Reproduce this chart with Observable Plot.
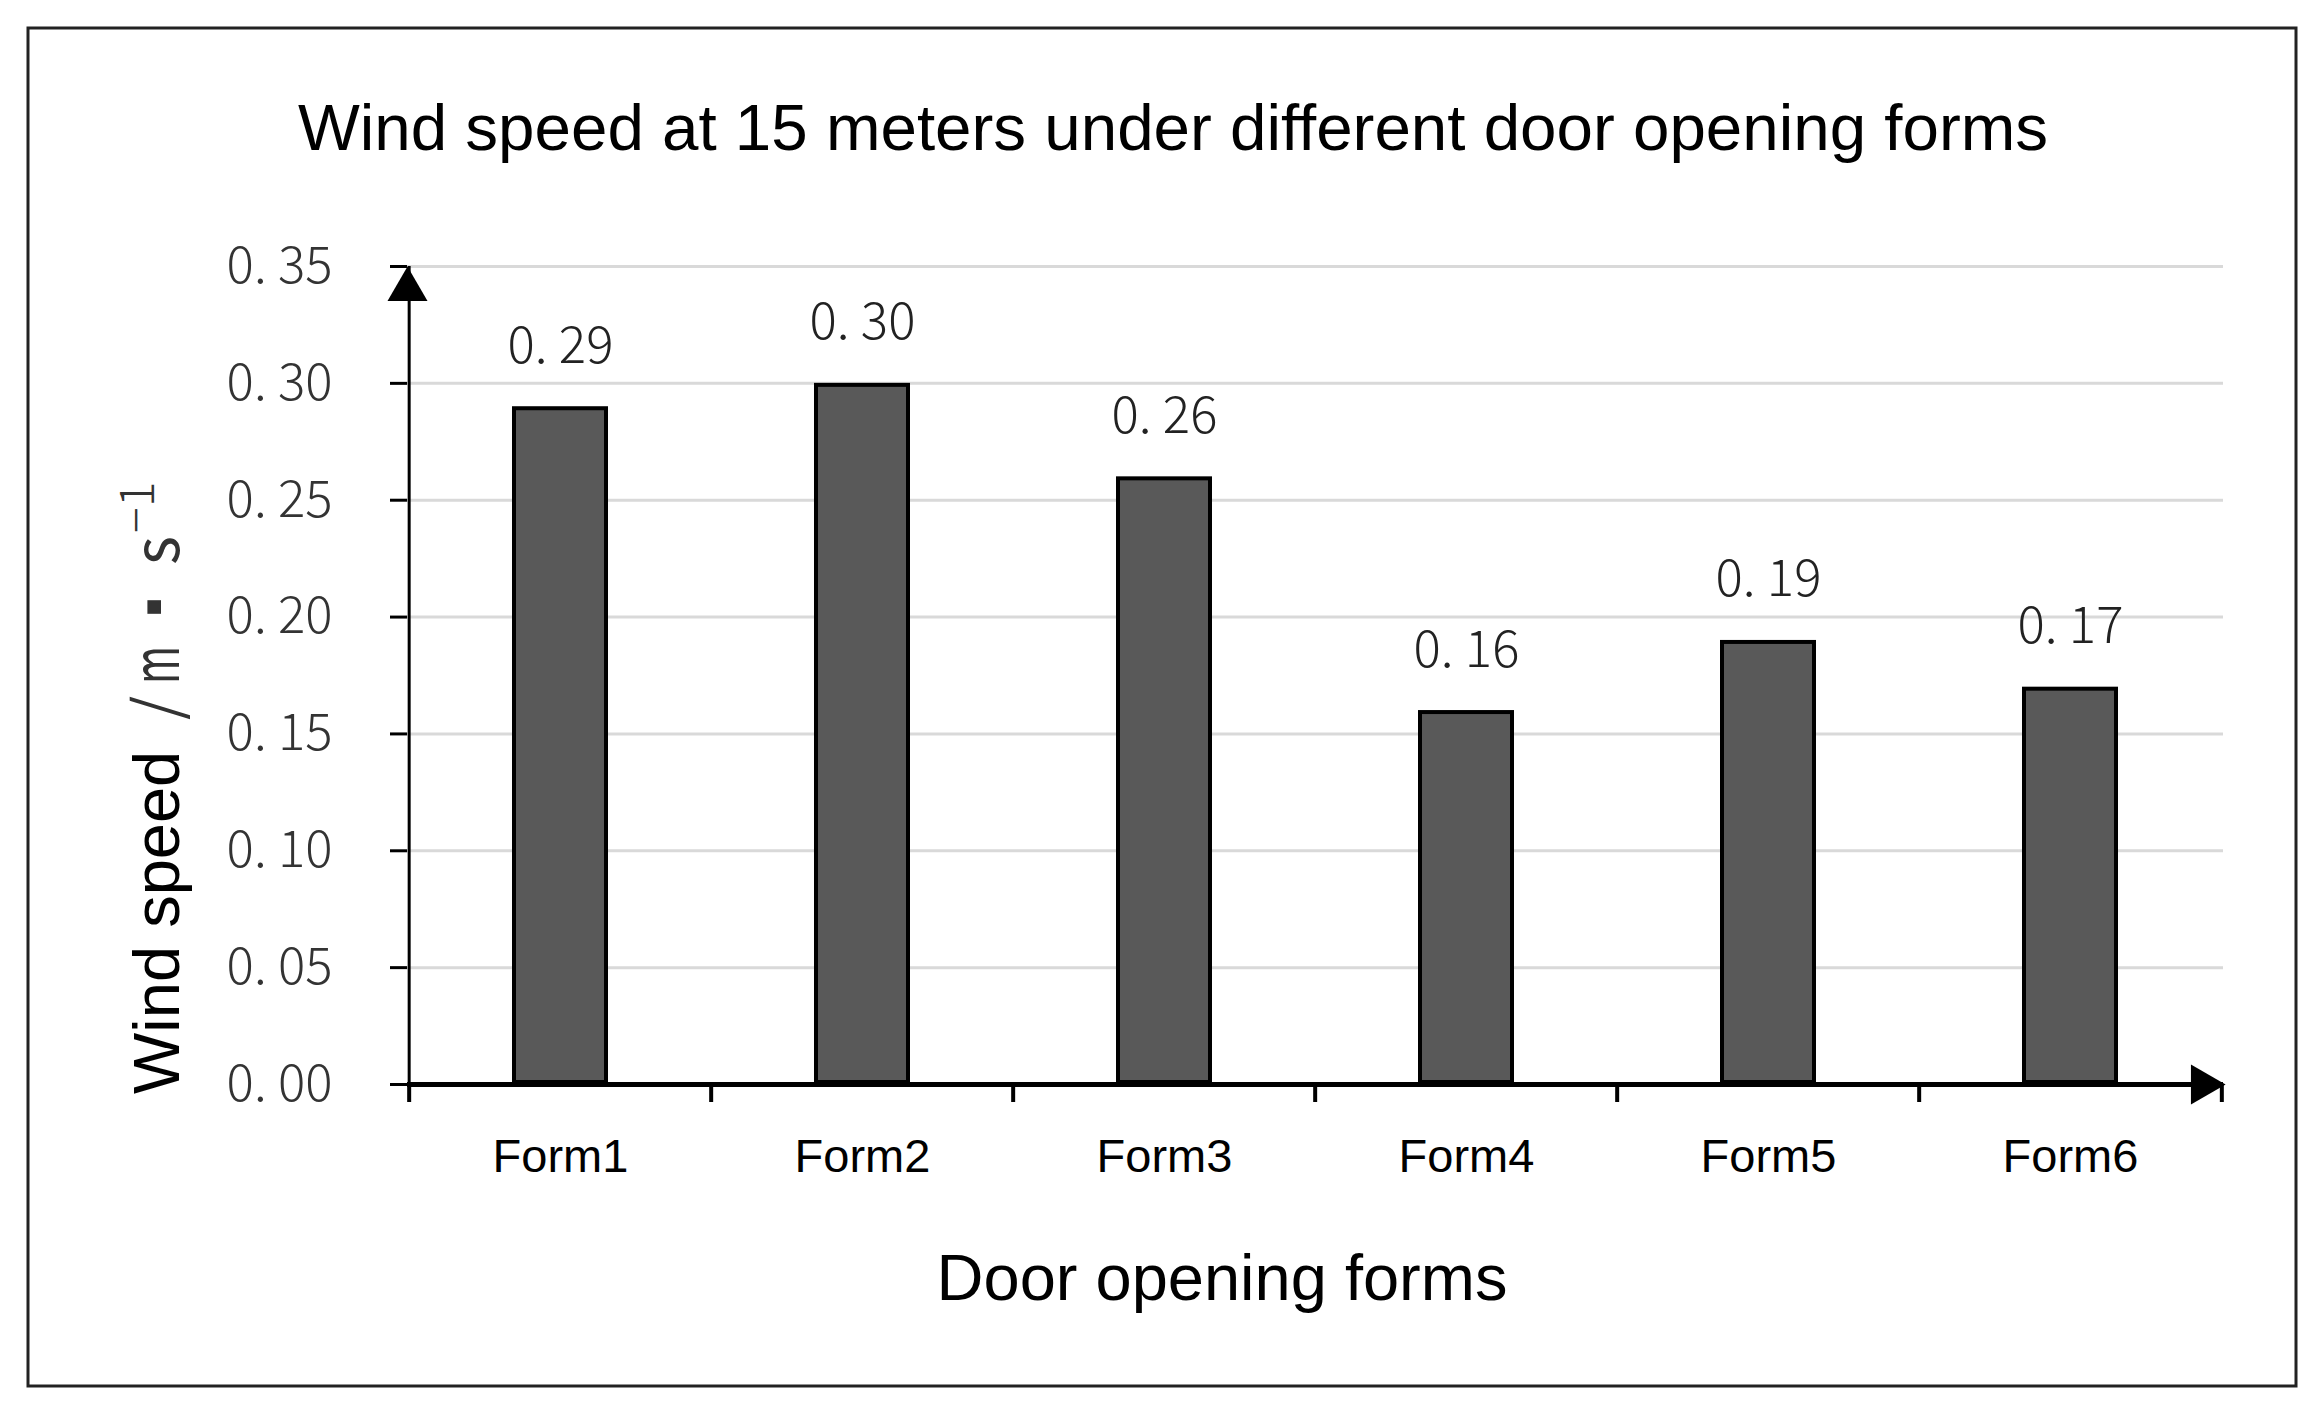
<!DOCTYPE html>
<html><head><meta charset="utf-8">
<script src="https://cdn.jsdelivr.net/npm/d3@7"></script>
<script src="https://cdn.jsdelivr.net/npm/@observablehq/plot@0.6"></script>
<style>html,body{margin:0;padding:0;background:#fff;} #chart{width:2324px;height:1411px;}</style>
</head><body><div id="chart"></div>
<script>
const categories = ["Form1", "Form2", "Form3", "Form4", "Form5", "Form6"];
const windSpeeds = [0.29, 0.30, 0.26, 0.16, 0.19, 0.17];
const valueLabels = ["0. 29", "0. 30", "0. 26", "0. 16", "0. 19", "0. 17"];
const yTicks = [0, 0.05, 0.10, 0.15, 0.20, 0.25, 0.30, 0.35];
const yTickLabels = ["0. 00", "0. 05", "0. 10", "0. 15", "0. 20", "0. 25", "0. 30", "0. 35"];
const titleText = "Wind speed at 15 meters under different door opening forms";
const xTitle = "Door opening forms";
const yTitleMain = "Wind speed";
const yTitleUnitParts = ["/", "m", "\u25AA", "s"];
const yTitleExp = "\u22121";

const data = categories.map((c, i) => ({form: c, speed: windSpeeds[i], label: valueLabels[i]}));
const tickLabelMap = new Map(yTicks.map((t, i) => [t, yTickLabels[i]]));

const W = 2324, H = 1411, mL = 407, mR = 101, mT = 266, mB = 327;
const step = (W - mL - mR) / categories.length;
const sans = "'Liberation Sans', Arial, sans-serif";
const cjk = "'Noto Sans CJK JP', 'Noto Sans', sans-serif";

const plot = Plot.plot({
  width: W, height: H,
  marginLeft: mL, marginRight: mR, marginTop: mT, marginBottom: mB,
  style: {background: "white", fontFamily: sans, overflow: "visible"},
  x: {domain: categories, paddingInner: 0.683, paddingOuter: 0.3415, label: null},
  y: {domain: [0, 0.35], label: null},
  marks: [
    Plot.ruleY(yTicks.slice(1), {stroke: "#d9d9d9", strokeWidth: 3}),
    Plot.barY(data, {x: "form", y: "speed", fill: "#595959", stroke: "#000", strokeWidth: 4, inset: 2}),
    Plot.text(data, {x: "form", y: "speed", text: "label", lineAnchor: "bottom", dy: -44,
      fontSize: 51, fontFamily: cjk, fontWeight: 300, fill: "#222"}),
    // y axis line
    Plot.ruleX(categories.slice(0, 1), {x: d => d, y1: 0, y2: 0.35, dx: -step / 2, stroke: "#000", strokeWidth: 3}),
    // x axis line
    Plot.ruleY([0], {stroke: "#000", strokeWidth: 5}),
    // category boundary ticks
    Plot.ruleX(categories, {x: d => d, y1: 0, y2: 0, insetBottom: -18, dx: -step / 2, stroke: "#000", strokeWidth: 4}),
    Plot.ruleX(categories.slice(-1), {x: d => d, y1: 0, y2: 0, insetBottom: -18, dx: step / 2, stroke: "#000", strokeWidth: 4}),
    Plot.axisY({ticks: yTicks, tickFormat: d => tickLabelMap.get(d), tickSize: 17, tickPadding: 58,
      fontSize: 51, fontFamily: cjk, fontWeight: 300, fill: "#333", stroke: "#000", strokeWidth: 3, label: null}),
    Plot.axisX({tickSize: 0, tickPadding: 54, fontSize: 47, fontFamily: sans, fill: "#000", label: null}),
    // arrowheads
    Plot.dot([0], {frameAnchor: "top-left", symbol: "triangle", r: 14.85, fill: "#000", dy: 23}),
    Plot.dot([0], {frameAnchor: "bottom-right", symbol: "triangle", r: 14.85, fill: "#000", rotate: 90, dx: -21})
  ]
});

const svg = d3.select(plot);
svg.append("rect").attr("x", 28).attr("y", 28).attr("width", 2268).attr("height", 1358)
  .attr("fill", "none").attr("stroke", "#222").attr("stroke-width", 3);
svg.append("text").attr("x", 1173).attr("y", 150).attr("text-anchor", "middle")
  .attr("font-family", sans).attr("font-size", 65.5).attr("fill", "#000").text(titleText);
svg.append("text").attr("x", 1222).attr("y", 1300).attr("text-anchor", "middle")
  .attr("font-family", sans).attr("font-size", 65).attr("fill", "#000").text(xTitle);

const yt = svg.append("text").attr("transform", "translate(179,1094) rotate(-90)").attr("text-anchor", "start");
yt.append("tspan").attr("x", 0).attr("y", 0).attr("font-family", sans).attr("font-size", 65).attr("fill", "#000").text(yTitleMain);
const unitX = [374, 410, 462, 529];
const unitY = [0, 0, -6, 0];
const unitSize = [62, 64, 50, 62];
yTitleUnitParts.forEach((p, i) => {
  const t = yt.append("tspan").attr("x", unitX[i]).attr("y", unitY[i]).attr("font-family", cjk).attr("font-size", unitSize[i])
    .attr("font-weight", 400).attr("fill", "#333").text(p);
  if (p === "m") t.attr("textLength", 38).attr("lengthAdjust", "spacingAndGlyphs");
});
yt.append("tspan").attr("x", 561).attr("y", -25).attr("font-family", cjk).attr("font-size", 48)
  .attr("font-weight", 300).attr("fill", "#333").text(yTitleExp);

document.getElementById("chart").appendChild(plot);
</script>
</body></html>
